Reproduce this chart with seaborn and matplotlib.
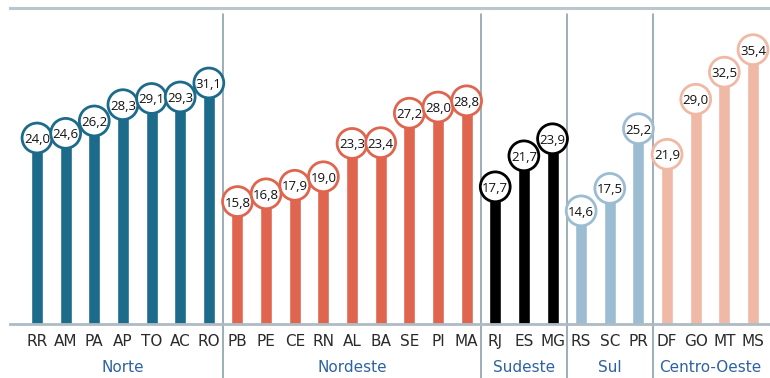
import matplotlib
matplotlib.use("Agg")
import matplotlib.pyplot as plt
import seaborn as sns
import pandas as pd

states = ["RR", "AM", "PA", "AP", "TO", "AC", "RO",
          "PB", "PE", "CE", "RN", "AL", "BA", "SE", "PI", "MA",
          "RJ", "ES", "MG",
          "RS", "SC", "PR",
          "DF", "GO", "MT", "MS"]
values = [24.0, 24.6, 26.2, 28.3, 29.1, 29.3, 31.1,
          15.8, 16.8, 17.9, 19.0, 23.3, 23.4, 27.2, 28.0, 28.8,
          17.7, 21.7, 23.9,
          14.6, 17.5, 25.2,
          21.9, 29.0, 32.5, 35.4]
regions = (["Norte"] * 7 + ["Nordeste"] * 9 + ["Sudeste"] * 3
           + ["Sul"] * 3 + ["Centro-Oeste"] * 4)
region_names = ["Norte", "Nordeste", "Sudeste", "Sul", "Centro-Oeste"]
region_colors = ["#1d6b8b", "#e0654f", "#000000", "#9cbcd2", "#f0b9a5"]

palette = dict(zip(region_names, region_colors))
df = pd.DataFrame({"estado": states, "valor": values, "regiao": regions})

sns.set_theme(style="white")
plt.rcParams["font.family"] = ["DejaVu Sans"]

W, H = 770, 378
fig = plt.figure(figsize=(W / 100, H / 100), dpi=100)
base_px = 324
top_px = 8
left_px = 10
ax = fig.add_axes([left_px / W, (H - base_px) / H, (W - left_px) / W, (base_px - top_px) / H])

sns.barplot(data=df, x="estado", y="valor", hue="regiao", palette=palette,
            dodge=False, width=0.42, legend=False, ax=ax, saturation=1, zorder=2)

px_per_unit = 7.75
spacing = 28.64
ax.set_ylim(0, (base_px - top_px) / px_per_unit)
ax.set_xlim((left_px - 37) / spacing, (W - 37) / spacing)

cols = [palette[r] for r in regions]
ax.scatter(range(len(states)), values, s=21.5 ** 2, facecolors="white",
           edgecolors=cols, linewidths=2.0, zorder=3, clip_on=False)
for i, v in enumerate(values):
    ax.text(i, v, f"{v:.1f}".replace(".", ","), ha="center", va="center_baseline",
            fontsize=9.5, color="#111111", zorder=4, family=["Open Sans", "DejaVu Sans"])

for s in ["left", "right"]:
    ax.spines[s].set_visible(False)
ax.spines["bottom"].set_color("#aebbc4")
ax.spines["bottom"].set_linewidth(2.0)
ax.spines["top"].set_color("#b9c6ce")
ax.spines["top"].set_linewidth(2.2)
ax.set_yticks([])
ax.set_xlabel("")
ax.set_ylabel("")
ax.tick_params(axis="x", length=0, pad=7, labelsize=11, labelcolor="#2a2a2a")

starts = [0]
for r in region_names:
    starts.append(starts[-1] + regions.count(r))
y_top = (base_px - 14) / px_per_unit
y_bot = -(H - base_px) / px_per_unit
for b in starts[1:-1]:
    ax.plot([b - 0.5, b - 0.5], [y_bot, y_top], color="#8398a6", lw=1.1,
            clip_on=False, zorder=1)

for k, r in enumerate(region_names):
    c = (starts[k] + starts[k + 1] - 1) / 2
    ax.text(c, -(368 - base_px) / (base_px - top_px), r, transform=ax.get_xaxis_transform(),
            ha="center", va="center", fontsize=11, color="#2e62a3")

fig.savefig("out.png", dpi=100)
